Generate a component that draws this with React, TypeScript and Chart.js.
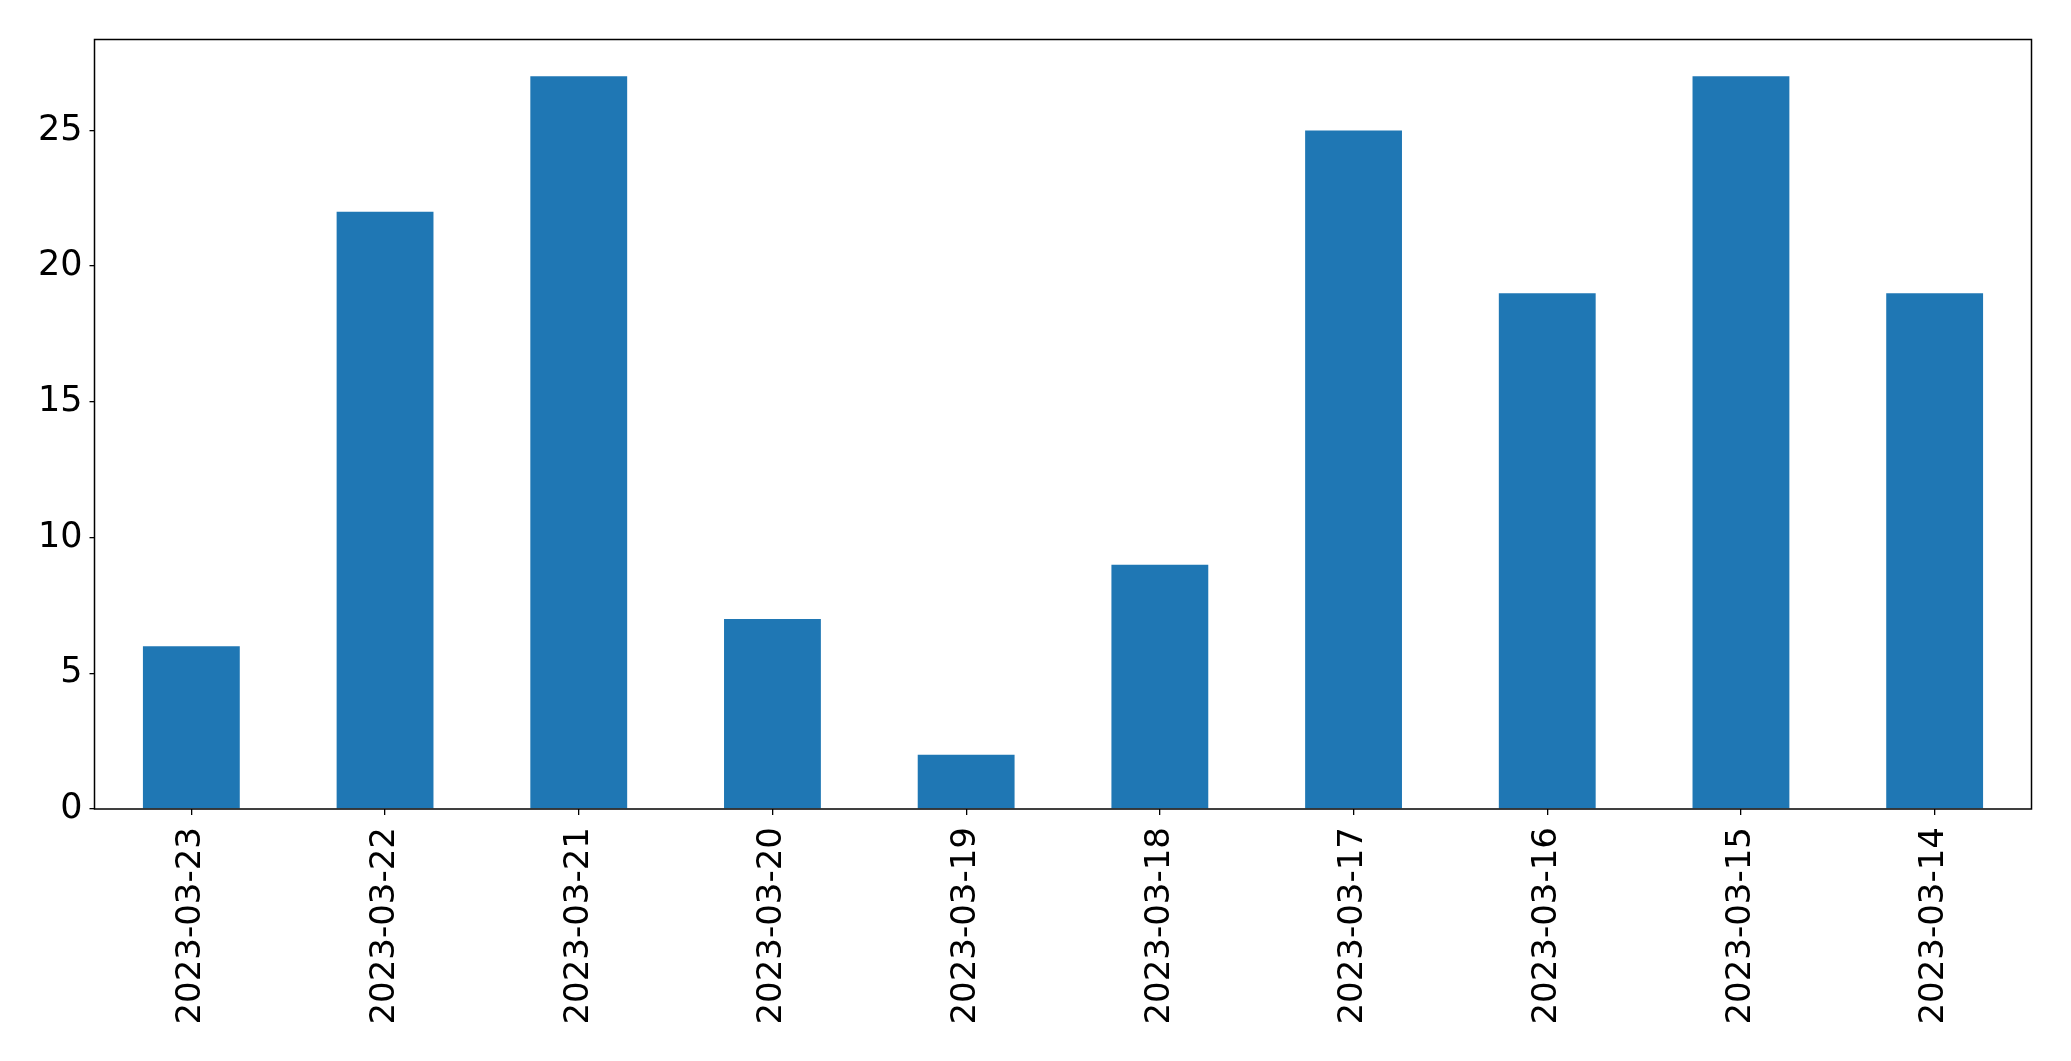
import React, { useEffect, useRef } from "react";
import { Chart, registerables } from "chart.js";

Chart.register(...registerables);

const categories = [
  "2023-03-23",
  "2023-03-22",
  "2023-03-21",
  "2023-03-20",
  "2023-03-19",
  "2023-03-18",
  "2023-03-17",
  "2023-03-16",
  "2023-03-15",
  "2023-03-14",
];
const counts = [6, 22, 27, 7, 2, 9, 25, 19, 27, 19];
const yMax = 28.35;
const yStep = 5;

const W = 2071;
const H = 1061;
const PLOT_LEFT = 94.5;
const PLOT_RIGHT = 2031.5;
const PLOT_TOP = 39.5;
const PLOT_BOTTOM = 809;

const framePlugin = {
  id: "frame",
  afterDatasetsDraw(chart: any) {
    const { ctx, chartArea } = chart;
    ctx.save();
    ctx.strokeStyle = "#000";
    ctx.lineWidth = 1.5;
    ctx.strokeRect(chartArea.left, chartArea.top, chartArea.right - chartArea.left, chartArea.bottom - chartArea.top);
    ctx.restore();
  },
};

export default function App() {
  const ref = useRef<HTMLCanvasElement | null>(null);

  useEffect(() => {
    document.body.style.margin = "0";
    const canvas = ref.current;
    if (!canvas) return;
    const fontFamily = "'DejaVu Sans', sans-serif";
    const chart = new Chart(canvas, {
      type: "bar",
      data: {
        labels: categories,
        datasets: [
          {
            data: counts,
            backgroundColor: "#1f77b4",
            borderWidth: 0,
            barPercentage: 0.5,
            categoryPercentage: 1,
          },
        ],
      },
      plugins: [framePlugin],
      options: {
        responsive: false,
        animation: false,
        devicePixelRatio: 1,
        layout: {
          padding: { left: 0, top: PLOT_TOP, right: W - PLOT_RIGHT, bottom: 0 },
        },
        plugins: {
          legend: { display: false },
          tooltip: { enabled: false },
          title: { display: false },
        },
        scales: {
          x: {
            type: "category",
            offset: true,
            grid: {
              display: true,
              offset: false,
              drawOnChartArea: false,
              drawTicks: true,
              tickLength: 6,
              color: "#000",
              lineWidth: 1.3,
            },
            border: { display: false },
            ticks: {
              color: "#000",
              font: { family: fontFamily, size: 34 },
              minRotation: 90,
              maxRotation: 90,
              autoSkip: false,
              padding: 12,
            },
            afterFit(scale: any) {
              scale.height = H - PLOT_BOTTOM;
            },
          },
          y: {
            type: "linear",
            min: 0,
            max: yMax,
            grid: {
              display: true,
              drawOnChartArea: false,
              drawTicks: true,
              tickLength: 5,
              color: "#000",
              lineWidth: 1.3,
            },
            border: { display: false },
            ticks: {
              color: "#000",
              font: { family: fontFamily, size: 35 },
              stepSize: yStep,
              includeBounds: false,
              padding: 7,
            },
            afterFit(scale: any) {
              scale.width = PLOT_LEFT;
            },
          },
        },
      },
    });
    return () => chart.destroy();
  }, []);

  return (
    <div style={{ width: W, height: H, position: "relative", background: "#fff" }}>
      <canvas ref={ref} width={W} height={H} style={{ display: "block", width: W, height: H }} />
    </div>
  );
}
